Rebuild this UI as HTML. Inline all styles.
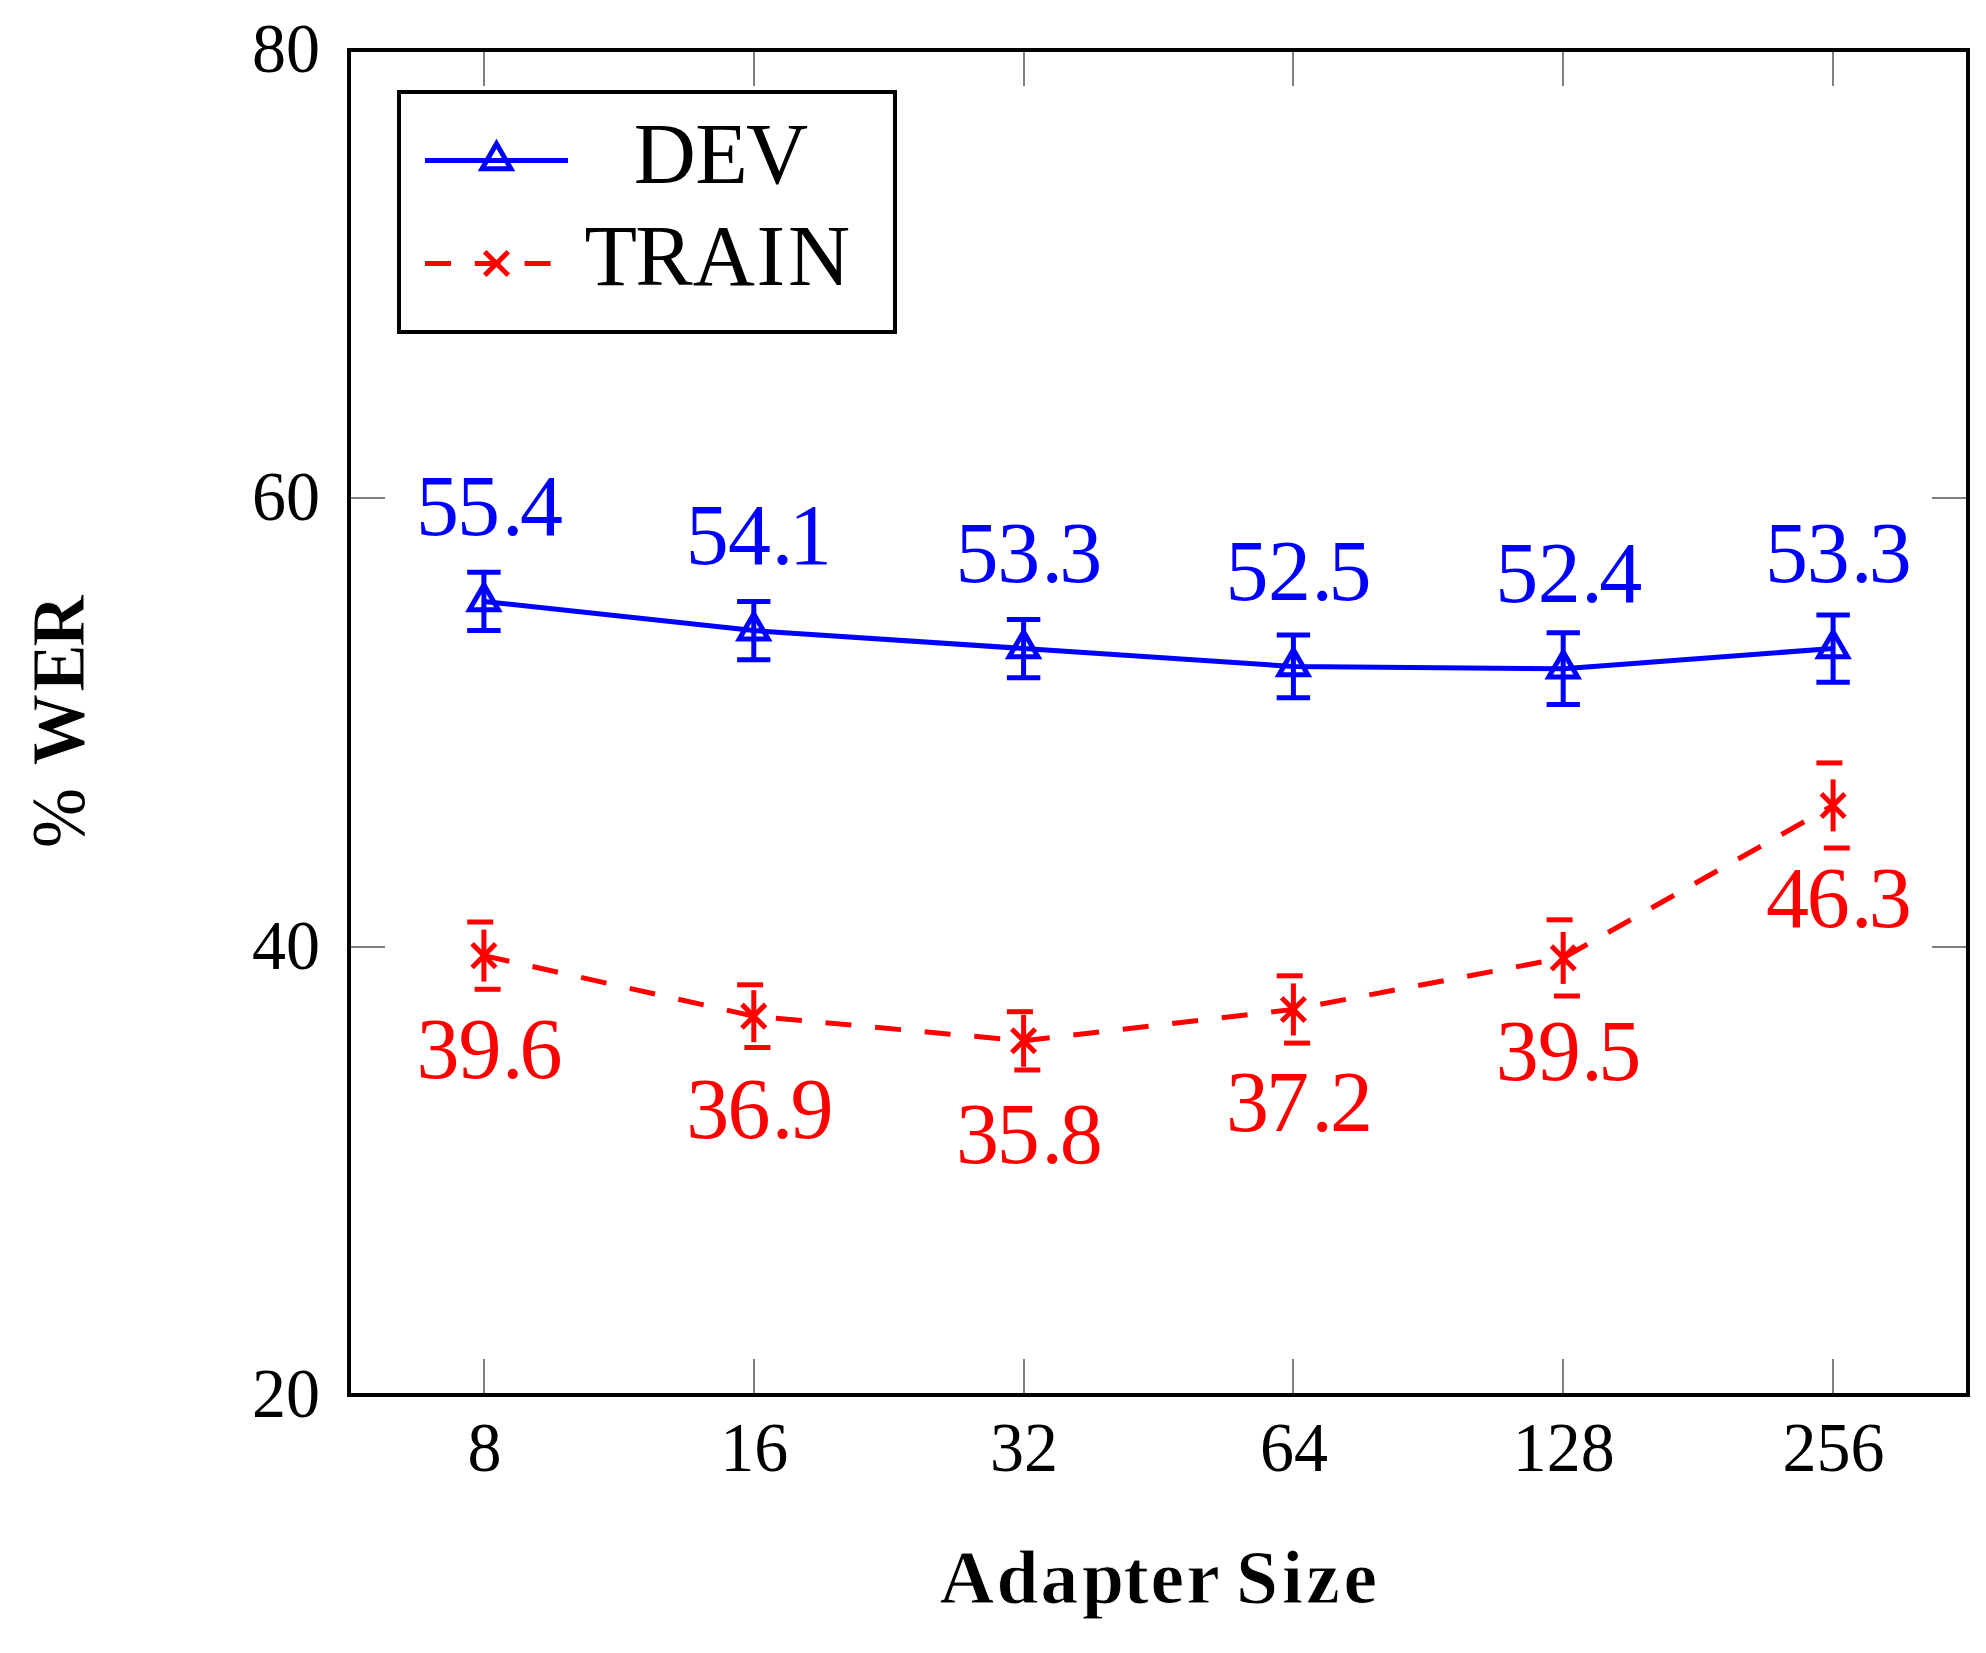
<!DOCTYPE html>
<html lang="en"><head><meta charset="utf-8"><title>Adapter Size vs WER</title>
<style>html,body{margin:0;padding:0;background:#fff}svg{display:block}</style></head>
<body>
<svg width="1986" height="1653" viewBox="0 0 1986 1653">
<rect x="0" y="0" width="1986" height="1653" fill="#fff"/>
<g stroke="#7f7f7f" stroke-width="2" fill="none" shape-rendering="crispEdges">
<line x1="484" y1="1395" x2="484" y2="1359.4"/>
<line x1="484" y1="50" x2="484" y2="85.6"/>
<line x1="754" y1="1395" x2="754" y2="1359.4"/>
<line x1="754" y1="50" x2="754" y2="85.6"/>
<line x1="1024" y1="1395" x2="1024" y2="1359.4"/>
<line x1="1024" y1="50" x2="1024" y2="85.6"/>
<line x1="1293" y1="1395" x2="1293" y2="1359.4"/>
<line x1="1293" y1="50" x2="1293" y2="85.6"/>
<line x1="1563" y1="1395" x2="1563" y2="1359.4"/>
<line x1="1563" y1="50" x2="1563" y2="85.6"/>
<line x1="1833" y1="1395" x2="1833" y2="1359.4"/>
<line x1="1833" y1="50" x2="1833" y2="85.6"/>
<line x1="349" y1="947" x2="384.6" y2="947"/>
<line x1="1968" y1="947" x2="1932.4" y2="947"/>
<line x1="349" y1="498" x2="384.6" y2="498"/>
<line x1="1968" y1="498" x2="1932.4" y2="498"/>
</g>
<rect x="349" y="50" width="1619" height="1345" fill="none" stroke="#000" stroke-width="4" shape-rendering="crispEdges"/>
<g font-family="'Liberation Serif', 'DejaVu Serif', serif" font-size="69.3" fill="#000">
<text x="320" y="1417.0" text-anchor="end" textLength="68.0" lengthAdjust="spacingAndGlyphs">20</text>
<text x="320" y="968.7" text-anchor="end" textLength="68.0" lengthAdjust="spacingAndGlyphs">40</text>
<text x="320" y="520.3" text-anchor="end" textLength="68.0" lengthAdjust="spacingAndGlyphs">60</text>
<text x="320" y="72.0" text-anchor="end" textLength="68.0" lengthAdjust="spacingAndGlyphs">80</text>
<text x="484.4" y="1471" text-anchor="middle" textLength="34.0" lengthAdjust="spacingAndGlyphs">8</text>
<text x="754.2" y="1471" text-anchor="middle" textLength="68.0" lengthAdjust="spacingAndGlyphs">16</text>
<text x="1024.1" y="1471" text-anchor="middle" textLength="68.0" lengthAdjust="spacingAndGlyphs">32</text>
<text x="1293.9" y="1471" text-anchor="middle" textLength="68.0" lengthAdjust="spacingAndGlyphs">64</text>
<text x="1563.8" y="1471" text-anchor="middle" textLength="102.0" lengthAdjust="spacingAndGlyphs">128</text>
<text x="1833.6" y="1471" text-anchor="middle" textLength="102.0" lengthAdjust="spacingAndGlyphs">256</text>
</g>
<text font-family="'Liberation Serif', 'DejaVu Serif', serif" font-size="75.5" font-weight="bold" stroke="#fff" stroke-width="0.9" y="1602.5" x="939.5 996.5 1040.4 1082.0 1123.4 1150.5 1186.2 1219.7 1236.0 1282.0 1306.3 1343.5">Adapter Size</text>
<text font-family="'Liberation Serif', 'DejaVu Serif', serif" font-size="72" font-weight="bold" stroke="#fff" stroke-width="0.9" transform="translate(84.3,849.5) rotate(-90) scale(1,1.055)" y="0"><tspan x="1.4" font-weight="normal" stroke="none">%</tspan><tspan x="66.9 83.8 157.6 202.4"> WER</tspan></text>
<g stroke="#0000ff" stroke-width="5.0" fill="none" stroke-linejoin="miter" stroke-miterlimit="10">
<polyline points="483.9,601.5 753.8,630.6 1023.6,648.5 1293.4,666.5 1563.2,668.7 1833.1,648.5"/>
<path d="M483.9 572.3V630.6M467.2 572.3H500.6M467.2 630.6H500.6"/>
<path d="M753.8 601.5V659.7M737.1 601.5H770.4M737.1 659.7H770.4"/>
<path d="M1023.6 619.4V677.7M1006.9 619.4H1040.3M1006.9 677.7H1040.3"/>
<path d="M1293.4 635.1V697.8M1276.7 635.1H1310.1M1276.7 697.8H1310.1"/>
<path d="M1563.2 632.8V704.6M1546.6 632.8H1579.9M1546.6 704.6H1579.9"/>
<path d="M1833.1 614.9V682.2M1816.4 614.9H1849.8M1816.4 682.2H1849.8"/>
<path d="M483.92 584.78L498.35 609.79L469.48 609.79Z"/>
<path d="M753.75 613.92L768.19 638.93L739.31 638.93Z"/>
<path d="M1023.58 631.86L1038.02 656.86L1009.15 656.86Z"/>
<path d="M1293.42 649.79L1307.85 674.79L1278.98 674.79Z"/>
<path d="M1563.25 652.03L1577.69 677.04L1548.81 677.04Z"/>
<path d="M1833.08 631.86L1847.52 656.86L1818.65 656.86Z"/>
</g>
<g stroke="#ff0000" stroke-width="5.0" fill="none">
<polyline points="483.9,955.6 753.8,1016.2 1023.6,1040.8 1293.4,1009.4 1563.2,957.9 1833.1,805.4" stroke-dasharray="26 23.8"/>
<path stroke-dasharray="26 23.8" d="M483.9 955.6V922.0"/>
<path stroke-dasharray="26 23.8" d="M483.9 955.6V989.3"/>
<path stroke-dasharray="26 23.8" d="M467.2 922.0H500.6"/>
<path stroke-dasharray="26 23.8" d="M500.6 989.3H467.2"/>
<path stroke-dasharray="26 23.8" d="M753.8 1016.2V984.8"/>
<path stroke-dasharray="26 23.8" d="M753.8 1016.2V1047.5"/>
<path stroke-dasharray="26 23.8" d="M737.1 984.8H770.4"/>
<path stroke-dasharray="26 23.8" d="M770.4 1047.5H737.1"/>
<path stroke-dasharray="26 23.8" d="M1023.6 1040.8V1011.7"/>
<path stroke-dasharray="26 23.8" d="M1023.6 1040.8V1070.0"/>
<path stroke-dasharray="26 23.8" d="M1006.9 1011.7H1040.3"/>
<path stroke-dasharray="26 23.8" d="M1040.3 1070.0H1006.9"/>
<path stroke-dasharray="26 23.8" d="M1293.4 1009.4V975.8"/>
<path stroke-dasharray="26 23.8" d="M1293.4 1009.4V1043.1"/>
<path stroke-dasharray="26 23.8" d="M1276.7 975.8H1310.1"/>
<path stroke-dasharray="26 23.8" d="M1310.1 1043.1H1276.7"/>
<path stroke-dasharray="26 23.8" d="M1563.2 957.9V919.8"/>
<path stroke-dasharray="26 23.8" d="M1563.2 957.9V996.0"/>
<path stroke-dasharray="26 23.8" d="M1546.6 919.8H1579.9"/>
<path stroke-dasharray="26 23.8" d="M1579.9 996.0H1546.6"/>
<path stroke-dasharray="26 23.8" d="M1833.1 805.4V762.9"/>
<path stroke-dasharray="26 23.8" d="M1833.1 805.4V848.0"/>
<path stroke-dasharray="26 23.8" d="M1816.4 762.9H1849.8"/>
<path stroke-dasharray="26 23.8" d="M1849.8 848.0H1816.4"/>
<path d="M472.13 943.85L495.70 967.42M472.13 967.42L495.70 943.85"/>
<path d="M741.96 1004.37L765.54 1027.95M741.96 1027.95L765.54 1004.37"/>
<path d="M1011.80 1029.03L1035.37 1052.60M1011.80 1052.60L1035.37 1029.03"/>
<path d="M1281.63 997.65L1305.20 1021.22M1281.63 1021.22L1305.20 997.65"/>
<path d="M1551.46 946.09L1575.04 969.66M1551.46 969.66L1575.04 946.09"/>
<path d="M1821.30 793.65L1844.87 817.23M1821.30 817.23L1844.87 793.65"/>
</g>
<g font-family="'Liberation Serif', 'DejaVu Serif', serif" font-size="86">
<text fill="#0000ff" x="415.9 457.0 501.9 520.0" y="534.9">55.4</text>
<text fill="#0000ff" x="685.8 727.9 771.8 788.9" y="564.0">54.1</text>
<text fill="#0000ff" x="955.6 997.2 1041.6 1059.2" y="581.9">53.3</text>
<text fill="#0000ff" x="1225.4 1268.0 1311.4 1328.5" y="599.9">52.5</text>
<text fill="#0000ff" x="1495.2 1537.8 1581.2 1599.3" y="602.1">52.4</text>
<text fill="#0000ff" x="1765.1 1806.7 1851.1 1868.7" y="581.9">53.3</text>
<text fill="#ff0000" x="416.4 458.5 501.9 519.5" y="1077.6">39.6</text>
<text fill="#ff0000" x="686.2 727.4 771.8 790.4" y="1138.2">36.9</text>
<text fill="#ff0000" x="956.1 996.7 1041.6 1059.7" y="1162.8">35.8</text>
<text fill="#ff0000" x="1225.9 1266.0 1311.4 1330.0" y="1131.4">37.2</text>
<text fill="#ff0000" x="1495.8 1537.8 1581.2 1598.3" y="1079.9">39.5</text>
<text fill="#ff0000" x="1766.1 1806.7 1851.1 1868.7" y="927.4">46.3</text>
</g>
<rect x="399" y="92" width="496" height="240" fill="#fff" stroke="#000" stroke-width="4" shape-rendering="crispEdges"/>
<g fill="none" stroke-width="5.0">
<path stroke="#0000ff" d="M425 160.5H568"/>
<g stroke="#0000ff" stroke-miterlimit="10"><path d="M496.50 143.83L510.94 168.84L482.06 168.84Z"/></g>
<path stroke="#ff0000" stroke-dasharray="26 23.8" d="M425 263.5H568"/>
<g stroke="#ff0000"><path d="M484.71 251.71L508.29 275.29M484.71 275.29L508.29 251.71"/></g>
</g>
<g font-family="'Liberation Serif', 'DejaVu Serif', serif" font-size="86" fill="#000">
<text y="182.5" x="633.7 695.2 746.0">DEV</text>
<text y="285" x="584.5 635.2 692.7 756.4 787.9">TRAIN</text>
</g>
</svg>
</body></html>
